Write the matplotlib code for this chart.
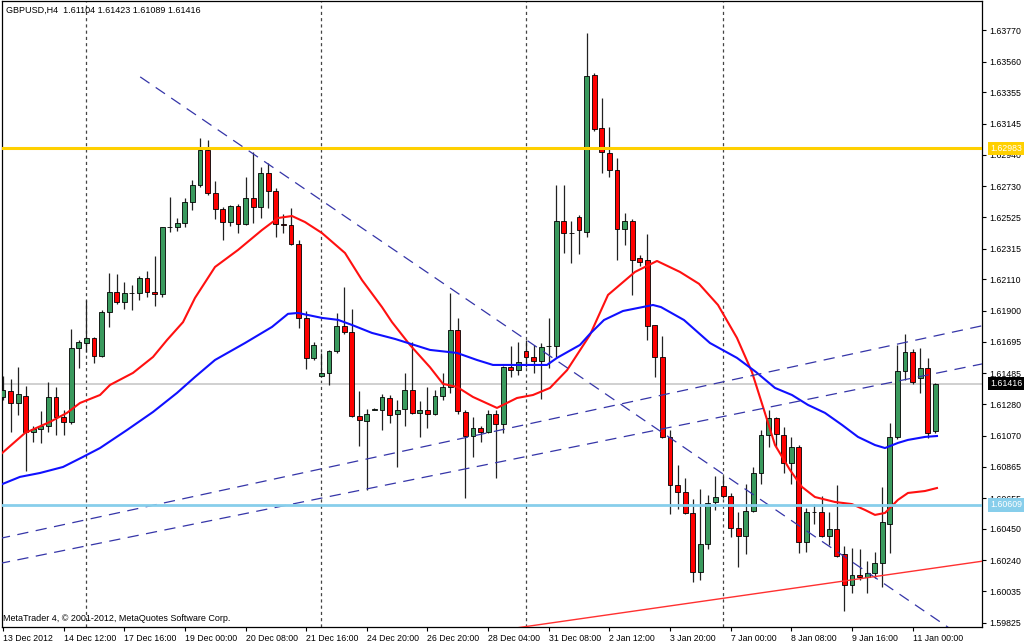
import numpy as np
import matplotlib
matplotlib.use("Agg")
import matplotlib.pyplot as plt
import matplotlib.transforms as mtransforms

plt.rcParams['font.family'] = ['Liberation Sans', 'DejaVu Sans']

# GBPUSD H4 candles, 13 Dec 2012 - 11 Jan 2013 (one value per bar)
opens = [1.61328, 1.61368, 1.61288, 1.61335, 1.61095, 1.61115, 1.61135, 1.61328, 1.61195, 1.61162,
         1.61654, 1.61687, 1.61721, 1.61601, 1.61894, 1.62027, 1.61960, 1.62020, 1.62020, 1.62119,
         1.62027, 1.62013, 1.62459, 1.62459, 1.62486, 1.62626, 1.62739, 1.62972, 1.62686, 1.62579,
         1.62492, 1.62599, 1.62479, 1.62652, 1.62592, 1.62817, 1.62699, 1.62479, 1.62473, 1.62346,
         1.61854, 1.61587, 1.61468, 1.61488, 1.61634, 1.61800, 1.61760, 1.61201, 1.61168, 1.61243,
         1.61238, 1.61321, 1.61215, 1.61248, 1.61375, 1.61222, 1.61243, 1.61215, 1.61335, 1.61395,
         1.61774, 1.61228, 1.61068, 1.61122, 1.61095, 1.61215, 1.61148, 1.61526, 1.61506, 1.61634,
         1.61594, 1.61567, 1.61667, 1.61667, 1.62499, 1.62419, 1.62526, 1.62426, 1.63471, 1.63118,
         1.62952, 1.62839, 1.62446, 1.62499, 1.62253, 1.62237, 1.61807, 1.61594, 1.61062, 1.60742,
         1.60696, 1.60556, 1.60163, 1.60350, 1.60629, 1.60735, 1.60669, 1.60456, 1.60403, 1.60569,
         1.60822, 1.61075, 1.61188, 1.61075, 1.60889, 1.60995, 1.60363, 1.60563, 1.60563, 1.60403,
         1.60450, 1.60283, 1.60077, 1.60143, 1.60130, 1.60157, 1.60223, 1.60483, 1.61062, 1.61501,
         1.61627, 1.61454, 1.61521, 1.61104]
highs = [1.61468, 1.61448, 1.61526, 1.61401, 1.61135, 1.61235, 1.61428, 1.61395, 1.61241, 1.61780,
         1.61707, 1.61970, 1.61727, 1.61906, 1.62152, 1.62146, 1.62093, 1.62073, 1.62132, 1.62166,
         1.62267, 1.62462, 1.62659, 1.62519, 1.62652, 1.62772, 1.63052, 1.63038, 1.62765, 1.62592,
         1.62606, 1.62612, 1.62793, 1.62958, 1.62859, 1.62885, 1.62719, 1.62546, 1.62586, 1.62370,
         1.61901, 1.61694, 1.61621, 1.61640, 1.61887, 1.62059, 1.61913, 1.61368, 1.61250, 1.61257,
         1.61348, 1.61341, 1.61308, 1.61488, 1.61694, 1.61301, 1.61395, 1.61375, 1.61488, 1.62020,
         1.61854, 1.61238, 1.61195, 1.61135, 1.61243, 1.61241, 1.61533, 1.61667, 1.61694, 1.61707,
         1.61674, 1.61687, 1.61854, 1.62739, 1.62739, 1.62499, 1.62539, 1.63750, 1.63484, 1.63318,
         1.63125, 1.62915, 1.62553, 1.62512, 1.62270, 1.62414, 1.61810, 1.61736, 1.61108, 1.60875,
         1.60789, 1.60649, 1.60716, 1.60676, 1.60802, 1.60802, 1.60689, 1.60563, 1.60748, 1.60862,
         1.61108, 1.61243, 1.61195, 1.61128, 1.61062, 1.61008, 1.60589, 1.60615, 1.60669, 1.60563,
         1.60742, 1.60337, 1.60323, 1.60317, 1.60237, 1.60297, 1.60729, 1.61155, 1.61674, 1.61748,
         1.61647, 1.61654, 1.61588, 1.61423]
lows = [1.61308, 1.61095, 1.61208, 1.60836, 1.61028, 1.61022, 1.61095, 1.61075, 1.61075, 1.61148,
        1.61521, 1.61627, 1.61554, 1.61594, 1.61794, 1.61947, 1.61913, 1.61906, 1.61970, 1.61993,
        1.61934, 1.61993, 1.62426, 1.62433, 1.62459, 1.62570, 1.62726, 1.62672, 1.62512, 1.62370,
        1.62466, 1.62419, 1.62473, 1.62486, 1.62519, 1.62586, 1.62393, 1.62419, 1.62340, 1.61787,
        1.61514, 1.61574, 1.61461, 1.61408, 1.61621, 1.61747, 1.61195, 1.61002, 1.60709, 1.61238,
        1.61108, 1.61155, 1.60859, 1.61135, 1.61215, 1.61062, 1.61122, 1.61208, 1.61308, 1.61355,
        1.61215, 1.60656, 1.60929, 1.61028, 1.61088, 1.60789, 1.61088, 1.61461, 1.61474, 1.61526,
        1.61488, 1.61314, 1.61521, 1.61594, 1.62286, 1.62220, 1.62280, 1.62393, 1.63098, 1.62817,
        1.62793, 1.62237, 1.62340, 1.62007, 1.62200, 1.61707, 1.61461, 1.61055, 1.60549, 1.60582,
        1.60549, 1.60097, 1.60110, 1.60317, 1.60576, 1.60656, 1.60396, 1.60193, 1.60283, 1.60563,
        1.60748, 1.60995, 1.60995, 1.60822, 1.60748, 1.60290, 1.60297, 1.60482, 1.60396, 1.60343,
        1.60263, 1.59903, 1.60025, 1.60110, 1.60025, 1.60123, 1.60063, 1.60290, 1.61048, 1.61441,
        1.61415, 1.61355, 1.61055, 1.61089]
closes = [1.61375, 1.61288, 1.61348, 1.61095, 1.61115, 1.61135, 1.61328, 1.61195, 1.61162, 1.61654,
          1.61694, 1.61721, 1.61601, 1.61894, 1.62027, 1.61960, 1.62020, 1.62022, 1.62119, 1.62027,
          1.62013, 1.62459, 1.62456, 1.62486, 1.62626, 1.62739, 1.62972, 1.62686, 1.62579, 1.62492,
          1.62599, 1.62479, 1.62652, 1.62592, 1.62817, 1.62699, 1.62479, 1.62473, 1.62346, 1.61854,
          1.61587, 1.61674, 1.61488, 1.61634, 1.61800, 1.61760, 1.61201, 1.61175, 1.61215, 1.61250,
          1.61328, 1.61208, 1.61241, 1.61375, 1.61222, 1.61243, 1.61215, 1.61335, 1.61395, 1.61774,
          1.61235, 1.61068, 1.61122, 1.61095, 1.61215, 1.61148, 1.61526, 1.61506, 1.61559, 1.61594,
          1.61567, 1.61661, 1.61670, 1.62499, 1.62419, 1.62422, 1.62439, 1.63462, 1.63114, 1.62958,
          1.62839, 1.62446, 1.62499, 1.62237, 1.62226, 1.61800, 1.61594, 1.61062, 1.60742, 1.60696,
          1.60556, 1.60163, 1.60350, 1.60622, 1.60662, 1.60669, 1.60456, 1.60403, 1.60569, 1.60822,
          1.61075, 1.61188, 1.61081, 1.60889, 1.60995, 1.60363, 1.60563, 1.60560, 1.60403, 1.60450,
          1.60270, 1.60077, 1.60143, 1.60130, 1.60157, 1.60223, 1.60496, 1.61062, 1.61501, 1.61627,
          1.61428, 1.61521, 1.61088, 1.61416]

date_labels = ["13 Dec 2012", "14 Dec 12:00", "17 Dec 16:00", "19 Dec 00:00", "20 Dec 08:00",
               "21 Dec 16:00", "24 Dec 20:00", "26 Dec 20:00", "28 Dec 04:00", "31 Dec 08:00",
               "2 Jan 12:00", "3 Jan 20:00", "7 Jan 00:00", "8 Jan 08:00", "9 Jan 16:00",
               "11 Jan 00:00"]
label_step = 8

# moving averages (bar position, price)
red_ma_bars = [-0.4, 2.9, 6.2, 8.44, 10.16, 12.8, 14.12, 17.15, 19.79, 21.64, 23.75, 25.33, 27.97,
               31.0, 34.17, 36.28, 38.13, 39.84, 42.08, 45.12, 47.36, 50.0, 51.32, 53.69, 56.33,
               58.05, 59.89, 62.0, 65.17, 67.81, 69.92, 72.16, 74.41, 77.44, 79.82, 83.38, 86.28,
               89.31, 91.82, 94.33, 96.83, 98.81, 100.4, 101.85, 103.83, 105.41, 107.12, 109.76,
               112.0, 113.72, 115.04, 116.36, 118.07, 119.39, 121.64, 123.22]
red_ma = [1.60942, 1.61088, 1.61162, 1.61222, 1.61288, 1.61341, 1.61408, 1.61488, 1.61594, 1.61707,
          1.61826, 1.61987, 1.62193, 1.62306, 1.62439, 1.62519, 1.62532, 1.62492, 1.62419, 1.62286,
          1.62106, 1.61926, 1.61826, 1.61674, 1.61526, 1.61415, 1.61395, 1.61328, 1.61255, 1.61321,
          1.61341, 1.61388, 1.61506, 1.61741, 1.62007, 1.62160, 1.62233, 1.62160, 1.62081, 1.61940,
          1.61721, 1.61494, 1.61241, 1.61008, 1.60842, 1.60729, 1.60662, 1.60629, 1.60615, 1.60576,
          1.60543, 1.60556, 1.60643, 1.60689, 1.60702, 1.60722]
blue_ma_bars = [-0.4, 2.24, 4.88, 7.92, 10.55, 12.8, 16.36, 19.79, 22.96, 25.33, 27.97, 31.93, 35.49,
                37.6, 38.92, 42.08, 44.2, 46.04, 48.68, 51.72, 56.33, 59.89, 62.53, 64.64, 71.77,
                73.09, 76.12, 77.44, 79.29, 81.79, 85.75, 86.81, 89.84, 93.27, 96.83, 99.34, 101.85,
                104.09, 106.2, 108.44, 110.69, 112.8, 115.04, 116.36, 118.07, 119.39, 121.64, 123.22]
blue_ma = [1.60742, 1.60796, 1.60822, 1.60862, 1.60929, 1.60988, 1.61108, 1.61228, 1.61355, 1.61461,
           1.61574, 1.61687, 1.61794, 1.61881, 1.61887, 1.61854, 1.61841, 1.61807, 1.61754, 1.61714,
           1.61641, 1.61621, 1.61574, 1.61541, 1.61541, 1.61588, 1.61674, 1.61748, 1.61840, 1.61900,
           1.61940, 1.61926, 1.61840, 1.61687, 1.61588, 1.61494, 1.61388, 1.61341, 1.61275, 1.61222,
           1.61142, 1.61062, 1.61008, 1.60988, 1.61022, 1.61042, 1.61062, 1.61068]

price_ticks = [1.63770, 1.63560, 1.63355, 1.63145, 1.62940, 1.62730, 1.62525, 1.62315, 1.62110,
               1.61900, 1.61695, 1.61485, 1.61280, 1.61070, 1.60865, 1.60655, 1.60450, 1.60240,
               1.60035, 1.59825]

resistance = 1.62983
support = 1.60609
bid = 1.61416
week_bars = [11, 42, 69, 95]

# trend lines as (bar, price) end points
down_line = ([18.1, 129.2], [1.63458, 1.59640])
chan_upper = ([-1, 129.2], [1.60380, 1.61802])
chan_lower = ([-1, 129.2], [1.60214, 1.61548])
red_line = ([60, 129.2], [1.59735, 1.60235])

fig = plt.figure(figsize=(10.24, 6.44), dpi=100)
fig.patch.set_facecolor("white")
ax = fig.add_axes([2 / 1024, 17 / 644, 980 / 1024, 626 / 644])

o = np.array(opens)
c = np.array(closes)
x = np.arange(len(o))
up = c >= o
body_col = np.where(up, "#3a9a5e", "#ff0000")
bottoms = np.minimum(o, c)
heights = np.maximum(np.abs(c - o), 0.000005)

for b in week_bars:
    ax.axvline(b, color="#444444", lw=0.9, ls=(0, (2.5, 2.5)), zorder=1)
ax.axhline(bid, color="#c8c8c8", lw=1.2, zorder=1)

ax.vlines(x, lows, highs, color="#222222", lw=0.9, zorder=3)
ax.bar(x, heights, bottom=bottoms, width=0.64, color=body_col,
       edgecolor="black", linewidth=0.6, zorder=4)

ax.plot(red_ma_bars, red_ma, color="#ff1010", lw=1.5, zorder=5, solid_joinstyle="round")
ax.plot(blue_ma_bars, blue_ma, color="#1010ff", lw=1.5, zorder=5, solid_joinstyle="round")

for xs, ys in (down_line, chan_upper, chan_lower):
    ax.plot(xs, ys, color="#3535a8", lw=0.9, ls=(0, (9, 6)), zorder=6)
ax.plot(*red_line, color="#ff3030", lw=1.0, zorder=6)

ax.axhline(resistance, color="#ffd000", lw=2.2, zorder=6)
ax.axhline(support, color="#87ceeb", lw=2.0, zorder=6)

ax.set_xlim(-0.132, 129.16)
ax.set_ylim(1.59797, 1.63963)

ax.yaxis.tick_right()
ax.set_yticks(price_ticks)
ax.set_yticklabels([f"{p:.5f}" for p in price_ticks])
ax.set_xticks(np.arange(len(date_labels)) * label_step)
ax.set_xticklabels(date_labels)
for lbl in ax.get_xticklabels():
    lbl.set_horizontalalignment("left")
ax.tick_params(axis="both", direction="out", length=3, width=0.8, labelsize=6.3,
               colors="black", pad=2)
for s in ax.spines.values():
    s.set_color("black")
    s.set_linewidth(0.9)

# price tags on the axis
trans = mtransforms.blended_transform_factory(ax.transAxes, ax.transData)
for lvl, fc, tc in ((resistance, "#ffd000", "white"), (bid, "black", "white"),
                    (support, "#87ceeb", "white")):
    ax.text(1.0085, lvl, f"{lvl:.5f}", transform=trans, ha="left", va="center",
            fontsize=6.3, color=tc, zorder=10, clip_on=False,
            bbox=dict(boxstyle="square,pad=0.25", fc=fc, ec="none"))

ax.text(0.004, 0.992, "GBPUSD,H4  1.61104 1.61423 1.61089 1.61416", transform=ax.transAxes,
        ha="left", va="top", fontsize=6.5, color="black", zorder=10)
ax.text(0.001, 0.006, "MetaTrader 4, \u00a9 2001-2012, MetaQuotes Software Corp.",
        transform=ax.transAxes, ha="left", va="bottom", fontsize=6.5, color="black", zorder=10)

plt.savefig("out.png", dpi=100)
plt.close()
